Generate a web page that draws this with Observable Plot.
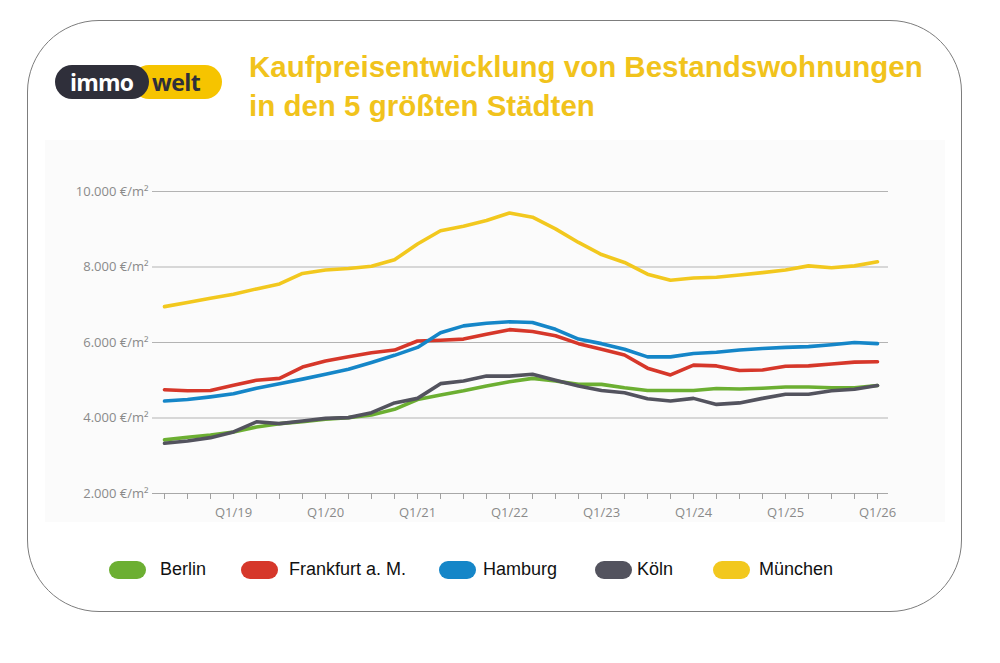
<!DOCTYPE html>
<html>
<head>
<meta charset="utf-8">
<script src="https://cdn.jsdelivr.net/npm/d3@7"></script>
<script src="https://cdn.jsdelivr.net/npm/@observablehq/plot@0.6"></script>
<style>
  html, body { margin: 0; padding: 0; background: #fff; }
  #page { position: relative; width: 1000px; height: 663px; overflow: hidden; background: #fff; font-family: "Liberation Sans", Arial, sans-serif; }
  #frame { position: absolute; left: 27px; top: 20px; width: 933px; height: 590px; border: 1.5px solid #7d7d7d; border-radius: 72px; }
  #title { position: absolute; left: 249px; top: 47px; color: #f1c31c; font-weight: bold; font-size: 29.5px; line-height: 39px; white-space: nowrap; }
  #chart { position: absolute; left: 45px; top: 140px; }
  .logo-y { position: absolute; left: 132px; top: 65px; width: 90px; height: 34px; border-radius: 17px; background: #f6c400; }
  .logo-d { position: absolute; left: 55px; top: 65px; width: 94px; height: 34px; border-radius: 17px; background: #2f2f3a; }
  .logo-t1 { position: absolute; left: 70px; top: 66px; font: bold 23px "Open Sans", sans-serif; color: #fff; letter-spacing: -0.8px; }
  .logo-t2 { position: absolute; left: 152px; top: 66px; font: bold 23px "Open Sans", sans-serif; color: #2f2f3a; letter-spacing: -0.5px; }
  .leg-sw { position: absolute; top: 561px; width: 37px; height: 18px; border-radius: 9px; }
  .leg-tx { position: absolute; top: 559px; font-size: 18px; color: #111; white-space: nowrap; }
</style>
</head>
<body>
<div id="page">
  <div id="frame"></div>
  <div class="logo-y"></div>
  <div class="logo-d"></div>
  <div class="logo-t1">immo</div>
  <div class="logo-t2">welt</div>
  <div id="title">Kaufpreisentwicklung von Bestandswohnungen<br>in den 5 größten Städten</div>
  <div id="chart"></div>
  <div id="legend"></div>
</div>
<script>
// Quarters (x categories)
const quarters = ["Q2/18","Q3/18","Q4/18",
  "Q1/19","Q2/19","Q3/19","Q4/19",
  "Q1/20","Q2/20","Q3/20","Q4/20",
  "Q1/21","Q2/21","Q3/21","Q4/21",
  "Q1/22","Q2/22","Q3/22","Q4/22",
  "Q1/23","Q2/23","Q3/23","Q4/23",
  "Q1/24","Q2/24","Q3/24","Q4/24",
  "Q1/25","Q2/25","Q3/25","Q4/25",
  "Q1/26"];
const labeledQuarters = ["Q1/19","Q1/20","Q1/21","Q1/22","Q1/23","Q1/24","Q1/25","Q1/26"];
const yTicks = [2000, 4000, 6000, 8000, 10000];

// Series values (€/m²)
const muenchen = [6950,7060,7170,7280,7420,7550,7830,7920,7960,8020,8190,8610,8960,9080,9230,9430,9320,9010,8650,8330,8120,7810,7650,7710,7730,7790,7850,7920,8030,7980,8030,8140];
const frankfurt = [4750,4720,4730,4870,5000,5050,5350,5510,5620,5730,5800,6040,6060,6090,6220,6340,6290,6180,5970,5820,5670,5320,5140,5400,5380,5260,5270,5370,5380,5430,5480,5490];
const hamburg = [4450,4490,4560,4640,4790,4910,5030,5160,5290,5470,5660,5870,6260,6440,6510,6550,6530,6350,6090,5970,5820,5620,5620,5710,5740,5800,5840,5870,5890,5940,6000,5970];
const koeln = [3330,3390,3480,3630,3900,3850,3920,3990,4010,4140,4400,4520,4910,4980,5110,5110,5160,5000,4850,4730,4670,4510,4450,4520,4360,4400,4520,4630,4630,4720,4760,4860];
const berlin = [3420,3490,3550,3630,3760,3850,3900,3970,4010,4080,4230,4490,4610,4720,4850,4960,5050,4980,4890,4890,4800,4730,4730,4730,4780,4770,4790,4820,4820,4800,4800,4860];

const cities = ["Berlin", "Frankfurt a. M.", "Hamburg", "Köln", "München"];
const colors = ["#6caf32", "#d6372a", "#1586c8", "#53535e", "#f2c81e"];
const seriesValues = [berlin, frankfurt, hamburg, koeln, muenchen];

const toRows = (vals) => quarters.map((q, i) => ({q, v: vals[i]}));
const deFmt = d3.formatLocale({decimal: ",", thousands: ".", grouping: [3], currency: ["", "€"]}).format(",d");

// draw order: München, Berlin, Frankfurt, Hamburg, Köln
const order = [4, 0, 1, 2, 3];

const chart = Plot.plot({
  width: 900,
  height: 382,
  marginLeft: 107,
  marginRight: 57,
  marginTop: 51,
  marginBottom: 29,
  style: {background: "#fbfbfb", fontFamily: "'Open Sans', sans-serif", fontSize: "13px", color: "#8a8a8a"},
  x: {type: "point", domain: quarters, padding: 0.48},
  y: {domain: [2000, 10000]},
  marks: [
    Plot.gridY(yTicks.slice(1), {stroke: "#b3b3b3", strokeOpacity: 1}),
    Plot.ruleY([2000], {stroke: "#a8a8a8"}),
    Plot.axisY({ticks: yTicks, tickSize: 0, tickPadding: 4, tickFormat: d => deFmt(d) + " €/m²", label: null}),
    Plot.axisX({ticks: quarters, tickSize: 6, tickFormat: () => "", stroke: "#a0a0a0", strokeOpacity: 1, label: null}),
    Plot.axisX({ticks: labeledQuarters, tickSize: 0, tickPadding: 14, label: null}),
    ...order.map(k => Plot.line(toRows(seriesValues[k]), {x: "q", y: "v", stroke: colors[k], strokeWidth: 3.6, strokeLinejoin: "round", strokeLinecap: "round"}))
  ]
});
document.getElementById("chart").appendChild(chart);

// Legend
const legendPos = [[109, 160], [241, 289], [439, 483], [595, 637], [713, 759]];
const legend = document.getElementById("legend");
cities.forEach((c, k) => {
  const sw = document.createElement("div");
  sw.className = "leg-sw";
  sw.style.left = legendPos[k][0] + "px";
  sw.style.background = colors[k];
  legend.appendChild(sw);
  const tx = document.createElement("div");
  tx.className = "leg-tx";
  tx.style.left = legendPos[k][1] + "px";
  tx.textContent = c;
  legend.appendChild(tx);
});
</script>
</body>
</html>
